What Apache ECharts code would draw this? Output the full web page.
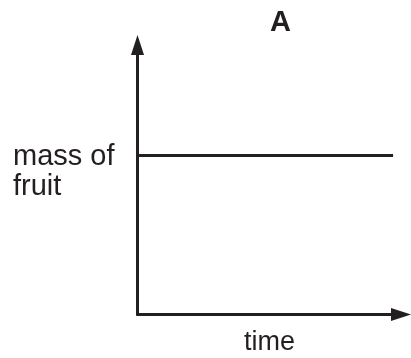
<!DOCTYPE html>
<html>
<head>
    <meta charset="utf-8">
    <title>A</title>
    <script src="https://cdn.jsdelivr.net/npm/echarts@6/dist/echarts.min.js"></script>
    <style>
        html, body { margin: 0; padding: 0; background: #fff; }
        #chart { width: 411px; height: 358px; }
    </style>
</head>
<body>
<div id="chart"></div>
<script type="text/javascript">
    // data (arbitrary units, no scale shown)
    var timeValues = [0, 9.7];
    var massValues = [5.9, 5.9];
    var chartTitle = 'A';
    var yLabelLines = ['mass of', 'fruit'];
    var xLabel = 'time';

    var ink = '#231f20';
    var font = '"Liberation Sans", Arial, sans-serif';

    var myChart = echarts.init(document.getElementById('chart'));

    var lineData = timeValues.map(function (t, i) { return [t, massValues[i]]; });

    var axisCommon = {
        type: 'value',
        min: 0,
        max: 10,
        splitLine: { show: false },
        axisTick: { show: false },
        axisLabel: { show: false },
        axisLine: {
            show: true,
            onZero: false,
            symbol: ['none', 'triangle'],
            symbolSize: [13, 20],
            lineStyle: { color: ink, width: 3 }
        }
    };

    myChart.setOption({
        animation: false,
        backgroundColor: '#fff',
        grid: { left: 137.5, right: 10, top: 45, bottom: 43.5 },
        xAxis: axisCommon,
        yAxis: axisCommon,
        graphic: [
            {
                type: 'text', x: 280.5, y: 23.3,
                style: { text: chartTitle, fill: ink, font: 'bold 29px ' + font, align: 'center', verticalAlign: 'middle' }
            },
            {
                type: 'text', x: 13, y: 157,
                style: { text: yLabelLines[0], fill: ink, font: '29px ' + font, align: 'left', verticalAlign: 'middle' }
            },
            {
                type: 'text', x: 13, y: 187,
                style: { text: yLabelLines[1], fill: ink, font: '29px ' + font, align: 'left', verticalAlign: 'middle' }
            },
            {
                type: 'text', x: 269.5, y: 342.3,
                style: { text: xLabel, fill: ink, font: '27px ' + font, align: 'center', verticalAlign: 'middle' }
            }
        ],
        series: [{
            type: 'line',
            data: lineData,
            showSymbol: false,
            lineStyle: { color: ink, width: 3 },
            silent: true
        }]
    });
</script>
</body>
</html>
